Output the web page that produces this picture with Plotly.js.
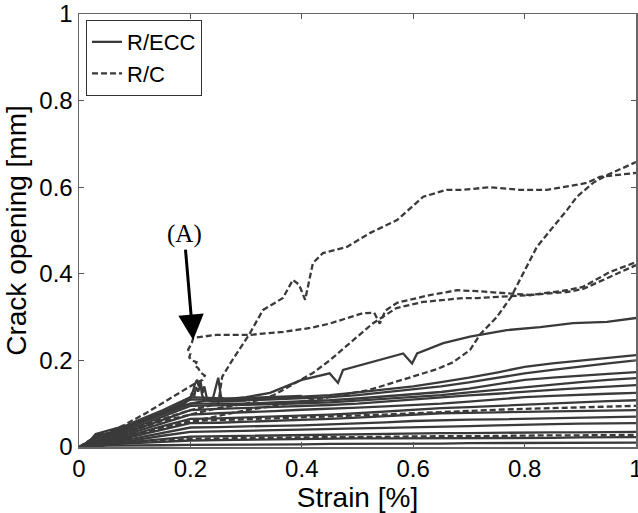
<!DOCTYPE html>
<html>
<head>
<meta charset="utf-8">
<script src="https://cdn.plot.ly/plotly-3.0.1.min.js"></script>
<style>html,body{margin:0;padding:0;background:#fff;}#chart{width:638px;height:513px;}</style>
</head>
<body>
<div id="chart"></div>
<script>
// ---- Data ----
// shared strain grid for the R/ECC family
const strainGrid = [0, 0.01, 0.02, 0.03, 0.05, 0.08, 0.1, 0.15, 0.2, 0.25, 0.3, 0.35, 0.4, 0.45, 0.5, 0.55, 0.6, 0.65, 0.7, 0.75, 0.8, 0.85, 0.9, 0.95, 1.0];

const ecc2  = [0, 0.004, 0.012, 0.028, 0.031, 0.045, 0.058, 0.085, 0.115, 0.112, 0.11, 0.113, 0.116, 0.12, 0.126, 0.133, 0.14, 0.15, 0.16, 0.172, 0.185, 0.193, 0.2, 0.206, 0.212];
const ecc3  = [0, 0.004, 0.011, 0.027, 0.03, 0.042, 0.055, 0.08, 0.11, 0.109, 0.108, 0.11, 0.112, 0.115, 0.12, 0.127, 0.133, 0.14, 0.149, 0.16, 0.17, 0.178, 0.186, 0.193, 0.2];
const ecc4  = [0, 0.003, 0.01, 0.026, 0.029, 0.04, 0.05, 0.075, 0.1, 0.1, 0.1, 0.103, 0.105, 0.108, 0.112, 0.117, 0.121, 0.127, 0.135, 0.145, 0.155, 0.16, 0.165, 0.169, 0.173];
const ecc5  = [0, 0.003, 0.009, 0.025, 0.028, 0.036, 0.045, 0.07, 0.095, 0.096, 0.097, 0.099, 0.101, 0.103, 0.107, 0.111, 0.115, 0.12, 0.126, 0.132, 0.139, 0.145, 0.15, 0.155, 0.159];
const ecc6  = [0, 0.003, 0.008, 0.02, 0.025, 0.032, 0.04, 0.062, 0.085, 0.088, 0.09, 0.092, 0.095, 0.097, 0.1, 0.105, 0.11, 0.115, 0.119, 0.123, 0.128, 0.132, 0.136, 0.14, 0.143];
const ecc7  = [0, 0.002, 0.006, 0.015, 0.022, 0.028, 0.035, 0.055, 0.075, 0.078, 0.08, 0.083, 0.086, 0.088, 0.091, 0.094, 0.097, 0.1, 0.105, 0.11, 0.115, 0.118, 0.121, 0.123, 0.125];
const ecc8  = [0, 0.002, 0.005, 0.012, 0.018, 0.024, 0.03, 0.048, 0.065, 0.066, 0.068, 0.07, 0.072, 0.075, 0.078, 0.082, 0.085, 0.09, 0.092, 0.095, 0.097, 0.1, 0.103, 0.106, 0.108];
const ecc9  = [0, 0.002, 0.004, 0.01, 0.015, 0.02, 0.025, 0.04, 0.055, 0.056, 0.058, 0.06, 0.062, 0.065, 0.068, 0.071, 0.074, 0.078, 0.079, 0.08, 0.08, 0.081, 0.083, 0.084, 0.085];
const ecc10 = [0, 0.001, 0.003, 0.008, 0.012, 0.017, 0.02, 0.032, 0.045, 0.046, 0.048, 0.049, 0.05, 0.052, 0.054, 0.057, 0.06, 0.062, 0.063, 0.064, 0.065, 0.066, 0.067, 0.069, 0.07];
const ecc11 = [0, 0.001, 0.003, 0.006, 0.01, 0.014, 0.016, 0.026, 0.035, 0.036, 0.038, 0.039, 0.04, 0.042, 0.043, 0.044, 0.045, 0.046, 0.048, 0.05, 0.052, 0.053, 0.054, 0.055, 0.055];
const ecc12 = [0, 0.001, 0.002, 0.005, 0.008, 0.01, 0.012, 0.018, 0.024, 0.025, 0.026, 0.027, 0.028, 0.029, 0.03, 0.031, 0.031, 0.032, 0.032, 0.033, 0.033, 0.034, 0.034, 0.035, 0.035];
const ecc13 = [0, 0.001, 0.002, 0.004, 0.006, 0.008, 0.009, 0.012, 0.015, 0.016, 0.017, 0.018, 0.019, 0.02, 0.02, 0.02, 0.02, 0.02, 0.02, 0.02, 0.02, 0.021, 0.022, 0.022, 0.023];
const ecc14 = [0, 0.001, 0.001, 0.002, 0.003, 0.003, 0.004, 0.004, 0.005, 0.005, 0.006, 0.006, 0.006, 0.007, 0.007, 0.008, 0.008, 0.008, 0.009, 0.009, 0.009, 0.009, 0.01, 0.01, 0.01];

// top R/ECC curve
const ecc1X = [0, 0.02, 0.03, 0.1, 0.2, 0.24, 0.25, 0.255, 0.26, 0.3, 0.343, 0.4, 0.45, 0.465, 0.474, 0.535, 0.582, 0.598, 0.607, 0.654, 0.702, 0.768, 0.828, 0.887, 0.948, 1.0];
const ecc1Y = [0, 0.015, 0.03, 0.055, 0.1, 0.11, 0.16, 0.115, 0.11, 0.115, 0.125, 0.155, 0.17, 0.148, 0.178, 0.2, 0.216, 0.193, 0.216, 0.24, 0.255, 0.27, 0.277, 0.286, 0.289, 0.298];
// dark tangle near strain 0.2
const ecc15X = [0.15, 0.19, 0.2, 0.205, 0.208, 0.212, 0.215, 0.218, 0.222, 0.225, 0.23, 0.26, 0.3, 0.4];
const ecc15Y = [0.08, 0.1, 0.115, 0.13, 0.145, 0.155, 0.14, 0.152, 0.125, 0.14, 0.11, 0.112, 0.113, 0.118];
const ecc16X = [0.17, 0.2, 0.203, 0.207, 0.21, 0.214, 0.218, 0.221, 0.226, 0.24, 0.3];
const ecc16Y = [0.09, 0.11, 0.125, 0.118, 0.138, 0.128, 0.145, 0.12, 0.108, 0.105, 0.107];

// R/C (dashed)
const rc1X = [0, 0.03, 0.1, 0.2, 0.25, 0.255, 0.257, 0.275, 0.29, 0.307, 0.33, 0.366, 0.384, 0.395, 0.406, 0.42, 0.438, 0.481, 0.522, 0.571, 0.618, 0.66, 0.69, 0.738, 0.79, 0.84, 0.869, 0.912, 0.935, 1.0];
const rc1Y = [0, 0.025, 0.045, 0.085, 0.1, 0.155, 0.162, 0.2, 0.23, 0.263, 0.316, 0.344, 0.386, 0.375, 0.34, 0.425, 0.448, 0.462, 0.494, 0.524, 0.578, 0.594, 0.594, 0.6, 0.594, 0.594, 0.6, 0.61, 0.624, 0.633];

const rc2X = [0, 0.03, 0.08, 0.12, 0.18, 0.21, 0.222, 0.226, 0.218, 0.214, 0.208, 0.211, 0.203, 0.198, 0.2, 0.196, 0.2, 0.203, 0.205, 0.247, 0.307, 0.367, 0.415, 0.45, 0.487, 0.51, 0.53, 0.54, 0.55, 0.571, 0.63, 0.679, 0.714, 0.756, 0.81, 0.876, 0.905, 0.953, 1.0];
const rc2Y = [0, 0.02, 0.05, 0.078, 0.125, 0.148, 0.155, 0.165, 0.172, 0.182, 0.188, 0.196, 0.2, 0.207, 0.216, 0.225, 0.234, 0.242, 0.252, 0.259, 0.259, 0.266, 0.275, 0.285, 0.3, 0.309, 0.31, 0.285, 0.315, 0.333, 0.351, 0.362, 0.36, 0.356, 0.351, 0.362, 0.37, 0.404, 0.427];

const rc3X = [0, 0.05, 0.15, 0.25, 0.3, 0.35, 0.42, 0.45, 0.487, 0.528, 0.57, 0.618, 0.69, 0.714, 0.81, 0.876, 0.905, 0.953, 1.0];
const rc3Y = [0, 0.02, 0.06, 0.09, 0.1, 0.12, 0.171, 0.2, 0.24, 0.286, 0.321, 0.335, 0.344, 0.344, 0.351, 0.358, 0.365, 0.393, 0.42];

const rc4X = [0, 0.05, 0.15, 0.3, 0.45, 0.522, 0.582, 0.643, 0.672, 0.702, 0.72, 0.75, 0.775, 0.797, 0.822, 0.846, 0.876, 0.894, 0.923, 0.948, 1.0];
const rc4Y = [0, 0.015, 0.045, 0.085, 0.115, 0.132, 0.155, 0.18, 0.196, 0.224, 0.26, 0.3, 0.345, 0.4, 0.462, 0.5, 0.547, 0.578, 0.61, 0.628, 0.658];

const rc5Y = [0, 0.002, 0.005, 0.01, 0.016, 0.022, 0.027, 0.043, 0.06, 0.062, 0.064, 0.066, 0.068, 0.07, 0.072, 0.075, 0.078, 0.081, 0.084, 0.086, 0.088, 0.09, 0.092, 0.094, 0.095];
const rc6Y = [0, 0.001, 0.002, 0.004, 0.007, 0.009, 0.011, 0.015, 0.019, 0.02, 0.021, 0.022, 0.022, 0.023, 0.023, 0.024, 0.024, 0.025, 0.025, 0.026, 0.026, 0.027, 0.027, 0.028, 0.028];

// ---- Build traces ----
const LINE = '#3a3a3a';
const traces = [];
function solid(x, y, first) {
  traces.push({x: x, y: y, type: 'scatter', mode: 'lines', name: 'R/ECC', legendgroup: 'ecc',
    showlegend: !!first, line: {color: LINE, width: 2.3}, hoverinfo: 'skip'});
}
function dashed(x, y, first) {
  traces.push({x: x, y: y, type: 'scatter', mode: 'lines', name: 'R/C', legendgroup: 'rc',
    showlegend: !!first, line: {color: LINE, width: 2.3, dash: '6px,3px'}, hoverinfo: 'skip'});
}
solid(ecc1X, ecc1Y, true);
[ecc2, ecc3, ecc4, ecc5, ecc6, ecc7, ecc8, ecc9, ecc10, ecc11, ecc12, ecc13, ecc14].forEach(function (y) { solid(strainGrid, y); });
solid(ecc15X, ecc15Y);
solid(ecc16X, ecc16Y);
dashed(rc1X, rc1Y, true);
dashed(rc2X, rc2Y);
dashed(rc3X, rc3Y);
dashed(rc4X, rc4Y);
dashed(strainGrid, rc5Y);
dashed(strainGrid, rc6Y);

const tickVals = [0, 0.2, 0.4, 0.6, 0.8, 1];
const tickText = ['0', '0.2', '0.4', '0.6', '0.8', '1'];
const FONT = 'Liberation Sans, Arial, sans-serif';

const axisCommon = {
  range: [0, 1], tickvals: tickVals, ticktext: tickText, ticks: 'inside', ticklen: 5,
  tickcolor: '#555', tickwidth: 1, showline: true, linecolor: '#666', linewidth: 1.5,
  mirror: 'ticks', showgrid: false, zeroline: false, fixedrange: true,
  ticklabeloverflow: 'allow',
  tickfont: {family: FONT, size: 24, color: '#000'}
};

const layout = {
  width: 638, height: 513,
  margin: {l: 79, r: 2, t: 14, b: 66},
  paper_bgcolor: '#fff', plot_bgcolor: '#fff',
  font: {family: FONT, color: '#000'},
  xaxis: Object.assign({}, axisCommon, {title: {text: 'Strain [%]', font: {family: FONT, size: 28, color: '#000'}, standoff: 0}}),
  yaxis: Object.assign({}, axisCommon, {title: {text: 'Crack opening [mm]', font: {family: FONT, size: 28, color: '#000'}, standoff: 4}}),
  showlegend: true,
  legend: {x: 0.0126, y: 0.986, xanchor: 'left', yanchor: 'top', bgcolor: '#fff',
    bordercolor: '#333', borderwidth: 1, font: {family: FONT, size: 22, color: '#000'}, tracegroupgap: 0},
  annotations: [{
    x: 0.205, y: 0.247, xref: 'x', yref: 'y', text: '(A)', showarrow: true,
    ax: -9, ay: -106, arrowhead: 2, arrowsize: 1.7, arrowwidth: 3, arrowcolor: '#000', standoff: 0,
    font: {family: 'Liberation Serif, Times New Roman, serif', size: 25, color: '#000'}
  }]
};

Plotly.newPlot('chart', traces, layout, {staticPlot: true, displayModeBar: false});
</script>
</body>
</html>
